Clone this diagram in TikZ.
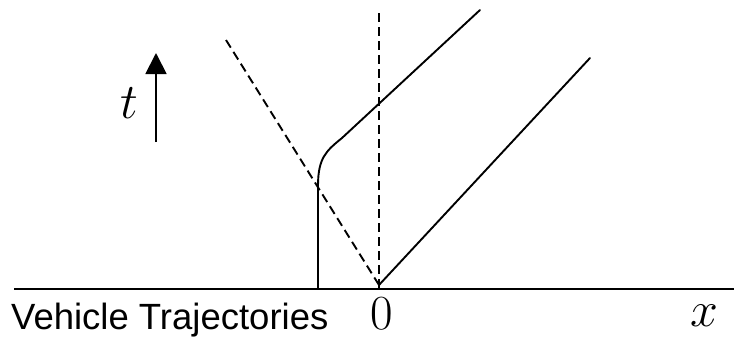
\documentclass[tikz,border=0pt]{standalone}
\usepackage{fix-cm}
\usepackage{fontspec}
\setsansfont{Liberation Sans}
\usetikzlibrary{arrows.meta}
\begin{document}
\begin{tikzpicture}[x=1pt,y=-1pt,
  traj/.style={line width=1.9pt, line cap=round},
  dashtraj/.style={line width=1.9pt, dash pattern=on 9pt off 5pt},
  mathlab/.style={inner sep=0pt, font=\fontsize{50}{50}\selectfont},
  ]
\useasboundingbox (0,0) rectangle (734,338);
% axis
\coordinate (axL) at (14,289);
\coordinate (axR) at (734,289);
\draw[line width=2pt] (axL) -- (axR);
% origin and ends
\coordinate (O) at (379,285);
\coordinate (vtop) at (379,13);
\coordinate (dtop) at (226,40);
\coordinate (rtop) at (590,58);
\coordinate (lbot) at (318,289);
\coordinate (lbend) at (318,186);
\coordinate (lknee) at (342,138);
\coordinate (ltop) at (480,10);
% dashed lines
\draw[dashtraj] (vtop) -- (379,289);
\draw[dashtraj] (dtop) -- (O);
% trajectories
\draw[traj] (O) -- (rtop);
\draw[traj] (lbot) -- (lbend) .. controls (318,158) and (326,151) .. (lknee) -- (ltop);
% time arrow
\coordinate (tb) at (156,142);
\coordinate (tt) at (156,53);
\draw[line width=1.9pt, -{Triangle[length=21pt,width=21pt]}] (tb) -- (tt);
% labels
\node[mathlab, anchor=base] (tlab) at (129,118) {$t$};
\node[mathlab, anchor=base, font=\fontsize{49}{49}\selectfont] (zlab) at (382,329) {$0$};
\node[mathlab, anchor=base] (xlab) at (704,326) {$x$};
\node[inner sep=0pt, anchor=base west, font=\sffamily\fontsize{36.5}{36.5}\selectfont] (vt) at (11,329) {Vehicle Trajectories};
\end{tikzpicture}
\end{document}
